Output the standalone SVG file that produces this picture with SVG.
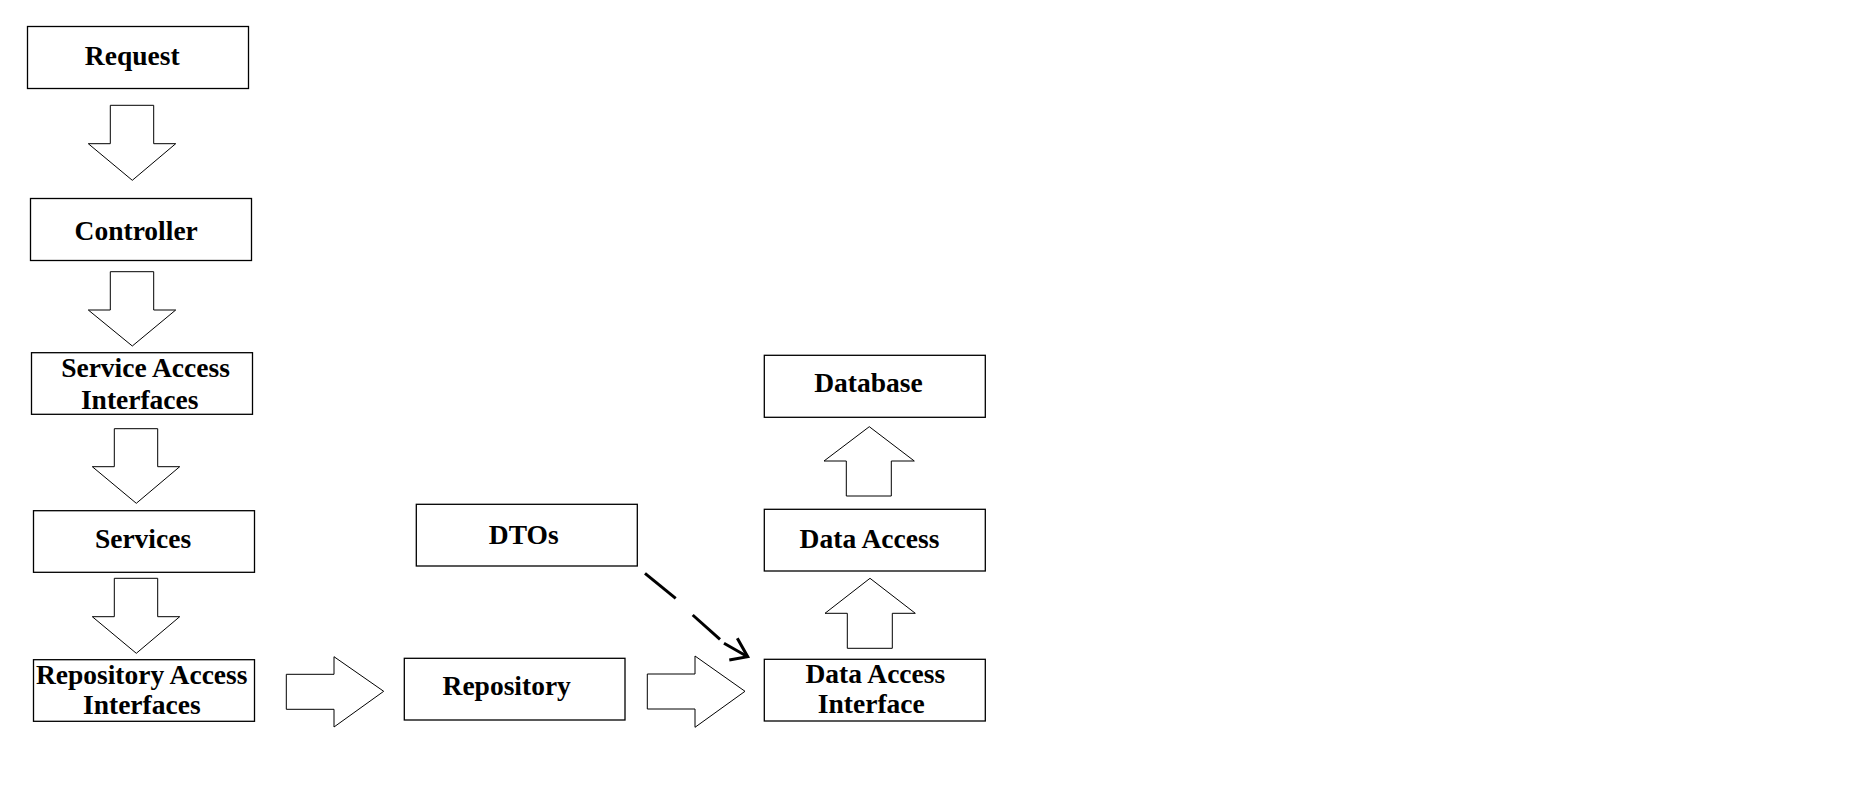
<svg xmlns="http://www.w3.org/2000/svg" width="1865" height="807" viewBox="0 0 1865 807">
  <style>
    .box { fill: #ffffff; stroke: #000000; stroke-width: 1.3; }
    .blk { fill: #ffffff; stroke: #000000; stroke-width: 1; stroke-linejoin: miter; }
    .lbl { font-family: "Liberation Serif", "Times New Roman", serif; font-weight: bold; font-size: 27.5px; fill: #000000; text-anchor: middle; }
    .dash { fill: none; stroke: #000000; stroke-width: 3; stroke-linecap: butt; }
  </style>
  <rect x="0" y="0" width="1865" height="807" fill="#ffffff"/>

  <!-- block arrows between layers -->
  <g id="connectors">
    <polygon class="blk" points="110.3,105.3 153.7,105.3 153.7,143.7 175.7,143.7 132.3,180.3 88.3,143.7 110.3,143.7"/>
    <polygon class="blk" points="110.3,271.7 153.7,271.7 153.7,310 175.7,310 132.3,346 88.3,310 110.3,310"/>
    <polygon class="blk" points="114.3,428.7 157.7,428.7 157.7,466.7 179.7,466.7 136.3,503.3 92.3,466.7 114.3,466.7"/>
    <polygon class="blk" points="114.3,578.3 157.7,578.3 157.7,616.7 179.7,616.7 136.3,653.3 92.3,616.7 114.3,616.7"/>
    <polygon class="blk" points="286.3,674.3 334,674.3 334,656.7 383.7,691.3 334,727 334,709.3 286.3,709.3"/>
    <polygon class="blk" points="647.3,674 695,674 695,656 745,691.3 695,727.3 695,709 647.3,709"/>
    <polygon class="blk" points="847.3,648.3 892.3,648.3 892.3,613.3 915.3,613.3 870,578.3 825,613.3 847.3,613.3"/>
    <polygon class="blk" points="846.3,496 891.3,496 891.3,461 914.3,461 869.3,426.7 824,461 846.3,461"/>
    <!-- dashed dependency from DTOs -->
    <g id="dto-link">
      <line class="dash" x1="645" y1="573.3" x2="675.7" y2="598.3"/>
      <line class="dash" x1="692.7" y1="615" x2="720" y2="639.3"/>
      <line class="dash" x1="724" y1="643.3" x2="747.7" y2="656.7"/>
      <polyline class="dash" points="737.3,638.3 747.7,656.7 729.3,660"/>
    </g>
  </g>

  <g id="request">
    <rect class="box" x="27.5" y="26.5" width="221" height="62"/>
    <text class="lbl" x="132.2" y="65">Request</text>
  </g>
  <g id="controller">
    <rect class="box" x="30.5" y="198.5" width="221" height="62"/>
    <text class="lbl" x="136.2" y="240">Controller</text>
  </g>
  <g id="service-access-interfaces">
    <rect class="box" x="31.5" y="352.7" width="221" height="61.6"/>
    <text class="lbl" x="145.5" y="376.7">Service Access</text>
    <text class="lbl" x="139.7" y="408.5">Interfaces</text>
  </g>
  <g id="services">
    <rect class="box" x="33.5" y="510.7" width="221" height="61.6"/>
    <text class="lbl" x="143" y="548.3">Services</text>
  </g>
  <g id="repository-access-interfaces">
    <rect class="box" x="33.5" y="659.7" width="221" height="61.6"/>
    <text class="lbl" x="141.7" y="684.3">Repository Access</text>
    <text class="lbl" x="141.8" y="714.3">Interfaces</text>
  </g>
  <g id="dtos">
    <rect class="box" x="416.3" y="504.3" width="221" height="61.7"/>
    <text class="lbl" x="523.7" y="544.3">DTOs</text>
  </g>
  <g id="repository">
    <rect class="box" x="404.3" y="658.3" width="220.7" height="61.7"/>
    <text class="lbl" x="506.7" y="695">Repository</text>
  </g>
  <g id="database">
    <rect class="box" x="764.3" y="355.3" width="221" height="62"/>
    <text class="lbl" x="868.5" y="392">Database</text>
  </g>
  <g id="data-access">
    <rect class="box" x="764.3" y="509.3" width="221" height="61.7"/>
    <text class="lbl" x="869.5" y="547.7">Data Access</text>
  </g>
  <g id="data-access-interface">
    <rect class="box" x="764.3" y="659.3" width="221" height="61.7"/>
    <text class="lbl" x="875.3" y="683.3">Data Access</text>
    <text class="lbl" x="871.3" y="713.3">Interface</text>
  </g>
</svg>
